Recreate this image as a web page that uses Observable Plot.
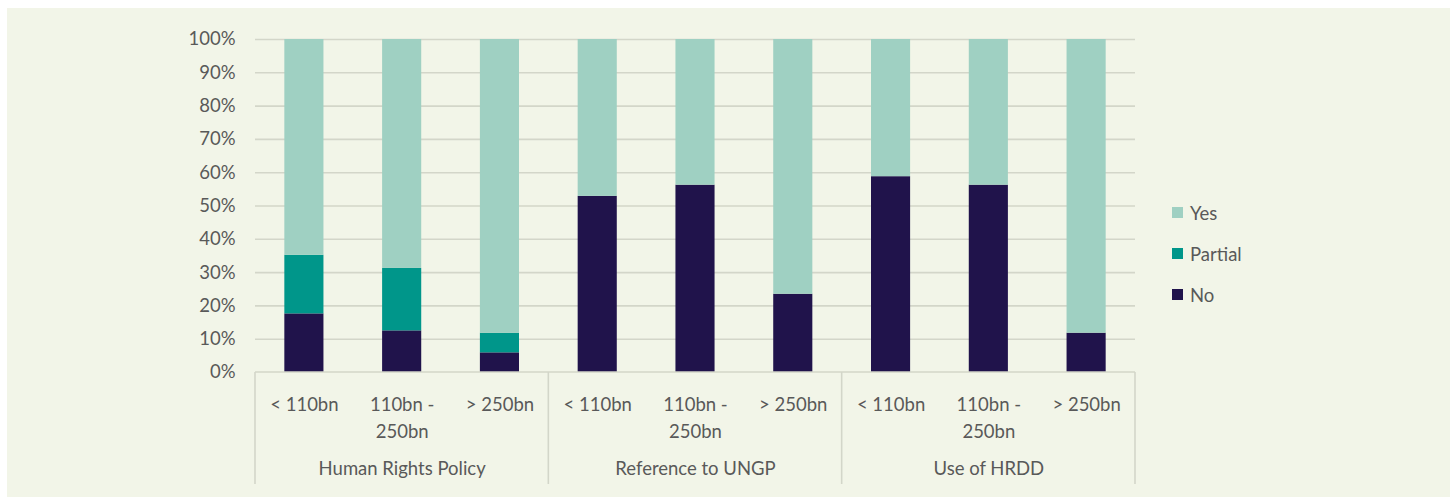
<!DOCTYPE html>
<html>
<head>
<meta charset="utf-8">
<script src="https://cdn.jsdelivr.net/npm/d3@7"></script>
<script src="https://cdn.jsdelivr.net/npm/@observablehq/plot@0.6"></script>
<style>
  html, body { margin: 0; padding: 0; background: #ffffff; }
  #panel {
    position: absolute; left: 7px; top: 8px; width: 1443px; height: 489px;
    background: #F2F5E8; font-family: Lato, "Open Sans", sans-serif;
  }
  #chart { position: absolute; left: 0; top: 0; }
  #legend { position: absolute; left: 1165px; top: 184px; color: #595959; font-size: 18.5px; }
  #legend .item { display: flex; align-items: center; height: 41px; }
  #legend .sw { width: 11px; height: 11px; margin-right: 7px; }
</style>
</head>
<body>
<div id="panel">
  <div id="chart"></div>
  <div id="legend"></div>
</div>
<script>
// Disclosure shares by company size band, for three human-rights indicators
const groups = ["Human Rights Policy", "Reference to UNGP", "Use of HRDD"];
const sizes = ["< 110bn", "110bn -\n250bn", "> 250bn"];
const seriesNames = ["No", "Partial", "Yes"];
const seriesColors = ["#20134B", "#00968A", "#9FD0C2"];

// Shares per group, in size order
const noValues = [
  [0.176, 0.125, 0.059],
  [0.529, 0.5625, 0.235],
  [0.588, 0.5625, 0.118]
];
const partialValues = [
  [0.176, 0.1875, 0.059],
  [0, 0, 0],
  [0, 0, 0]
];

const yTicks = [0, 0.1, 0.2, 0.3, 0.4, 0.5, 0.6, 0.7, 0.8, 0.9, 1];

const key = (g, s) => g + "|" + s;
const keys = groups.flatMap(g => sizes.map(s => key(g, s)));

const rows = [];
groups.forEach((g, gi) => sizes.forEach((s, si) => {
  const no = noValues[gi][si], partial = partialValues[gi][si];
  rows.push({key: key(g, s), group: g, size: s, series: "No", value: no});
  rows.push({key: key(g, s), group: g, size: s, series: "Partial", value: partial});
  rows.push({key: key(g, s), group: g, size: s, series: "Yes", value: 1 - no - partial});
}));

const sizeLabels = groups.flatMap(g => sizes.map(s => ({key: key(g, s), label: s})));
const groupLabels = groups.map(g => ({key: key(g, sizes[1]), label: g}));

const textColor = "#595959";
const gridColor = "#D3D6C9";
const fontSize = 18.5;

// Baseline and group separators that run down through the category labels
function separators(index, scales, values, dims) {
  const x = scales.x, y = scales.y;
  const bw = typeof x.bandwidth === "function" ? x.bandwidth() : (x.bandwidth || 0);
  const left = dims.marginLeft, right = dims.width - dims.marginRight;
  const y0 = y(0);
  const bounds = [left];
  for (let gi = 0; gi < groups.length - 1; gi++) {
    const a = x(key(groups[gi], sizes[sizes.length - 1])) + bw / 2;
    const b = x(key(groups[gi + 1], sizes[0])) + bw / 2;
    bounds.push((a + b) / 2);
  }
  bounds.push(right);
  const g = d3.create("svg:g").attr("stroke", gridColor).attr("stroke-width", 1.6);
  g.append("line").attr("x1", left).attr("x2", right).attr("y1", y0).attr("y2", y0);
  for (const bx of bounds) {
    g.append("line").attr("x1", bx).attr("x2", bx).attr("y1", y0).attr("y2", y0 + 112);
  }
  return g.node();
}

const chart = Plot.plot({
  width: 1443,
  height: 489,
  marginLeft: 248,
  marginRight: 315,
  marginTop: 31,
  marginBottom: 125,
  style: {background: "transparent", fontFamily: "Lato, 'Open Sans', sans-serif", fontSize: fontSize + "px", color: textColor},
  x: {domain: keys, paddingInner: 0.6, paddingOuter: 0.3, round: false, axis: null},
  y: {domain: [0, 1], axis: null},
  color: {domain: seriesNames, range: seriesColors},
  marks: [
    Plot.ruleY(yTicks.filter(t => t > 0), {stroke: gridColor, strokeWidth: 1.6}),
    Plot.barY(rows, {x: "key", y: "value", fill: "series", order: seriesNames}),
    separators,
    Plot.axisY({ticks: yTicks, tickFormat: d3.format(".0%"), tickSize: 0, tickPadding: 20, label: null, fill: textColor, fontSize}),
    Plot.text(sizeLabels, {x: "key", y: 0, text: "label", dy: 19, lineAnchor: "top", lineHeight: 1.46, fill: textColor, fontSize}),
    Plot.text(groupLabels, {x: "key", y: 0, text: "label", dy: 97, lineAnchor: "middle", fill: textColor, fontSize})
  ]
});
document.getElementById("chart").appendChild(chart);

// Legend, top to bottom: Yes, Partial, No
const legend = d3.select("#legend");
[...seriesNames].reverse().forEach(name => {
  const item = legend.append("div").attr("class", "item");
  item.append("div").attr("class", "sw").style("background", seriesColors[seriesNames.indexOf(name)]);
  item.append("span").text(name);
});
</script>
</body>
</html>
